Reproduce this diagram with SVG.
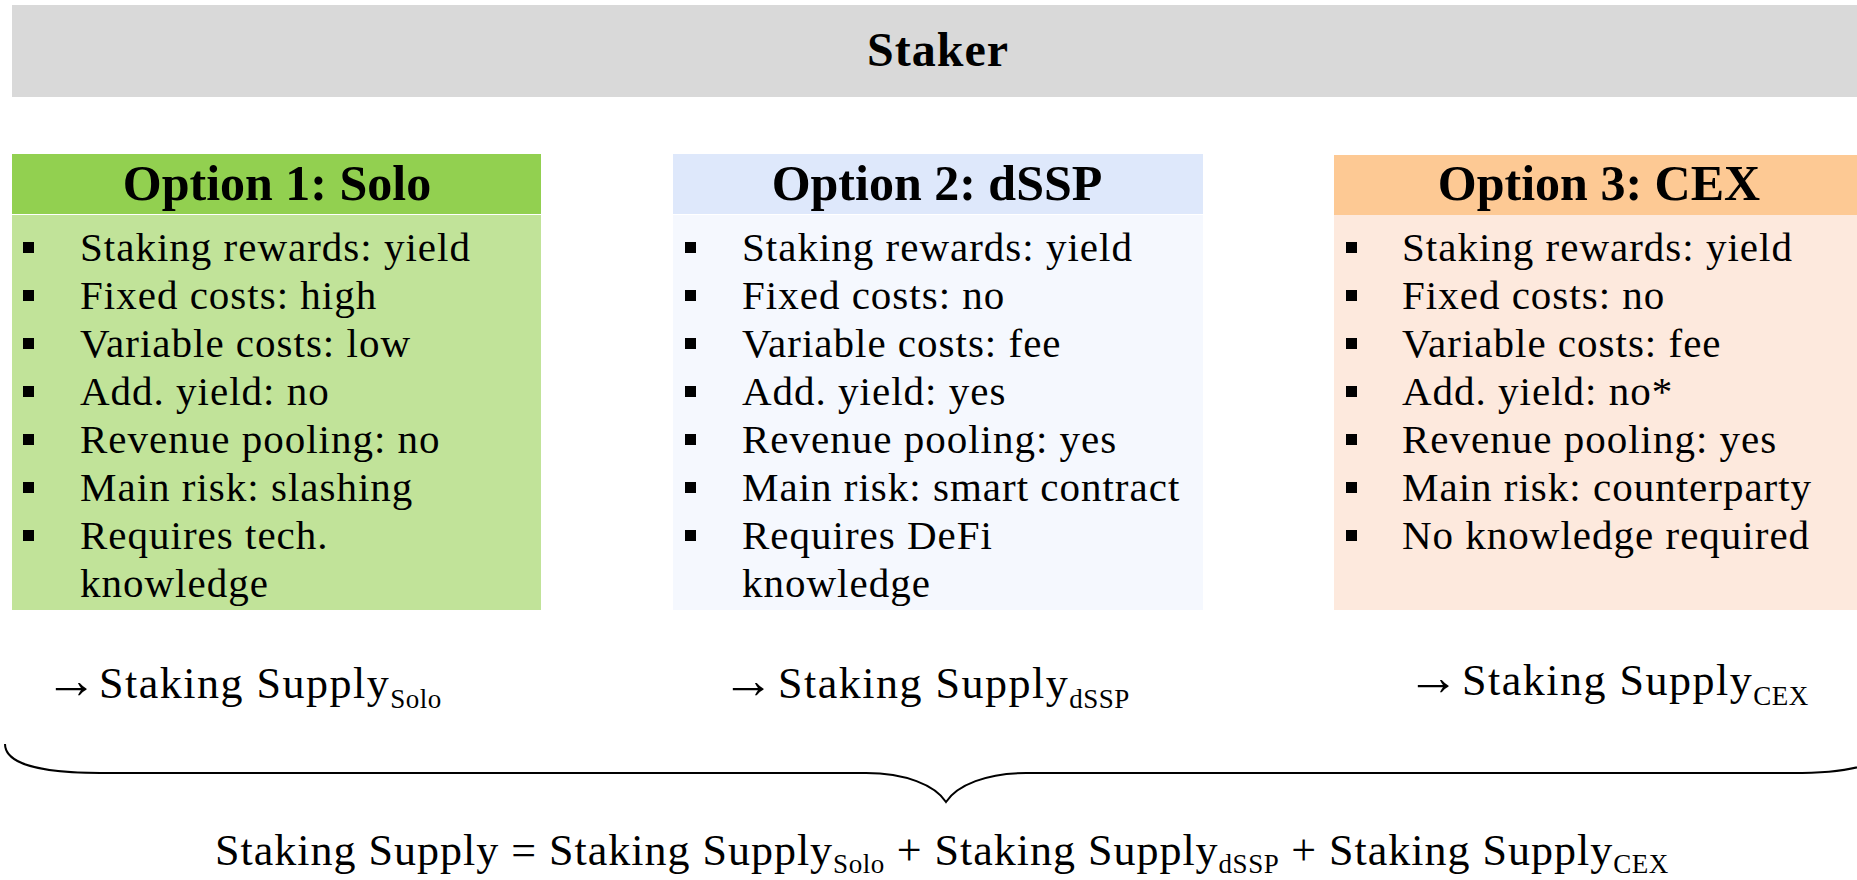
<svg xmlns="http://www.w3.org/2000/svg" width="1857" height="880" viewBox="0 0 1857 880">
<style>
.t{font-family:"Liberation Serif","Times New Roman",serif;fill:#000}
.title{font-size:48px;font-weight:bold;letter-spacing:1px}
.hd{font-size:50px;font-weight:bold}
.it{font-size:41px;letter-spacing:1px}
.lab{font-size:44px;letter-spacing:1.5px}
.tot{font-size:44px;letter-spacing:1px}
.arr{font-size:52px;letter-spacing:0}
.sub{font-size:27px;letter-spacing:0.5px}
.bul{fill:#000}
.brace{fill:none;stroke:#000;stroke-width:2}
</style>
<rect x="0" y="0" width="1857" height="880" fill="#fff"/>
<g id="staker">
<rect x="12" y="5" width="1845" height="92" fill="#D9D9D9"/>
<text class="t title" x="938" y="66" text-anchor="middle">Staker</text>
</g>
<g id="option1">
<rect x="12" y="154" width="529" height="60" fill="#92D050"/>
<rect x="12" y="215" width="529" height="395" fill="#C1E399"/>
<text class="t hd" x="277" y="200" text-anchor="middle">Option 1: Solo</text>
<g class="bul">
<rect x="23" y="242" width="11" height="11"/><rect x="23" y="290" width="11" height="11"/><rect x="23" y="338" width="11" height="11"/><rect x="23" y="386" width="11" height="11"/><rect x="23" y="434" width="11" height="11"/><rect x="23" y="482" width="11" height="11"/><rect x="23" y="530" width="11" height="11"/>
</g>
<text class="t it" x="80" y="261">Staking rewards: yield</text>
<text class="t it" x="80" y="309">Fixed costs: high</text>
<text class="t it" x="80" y="357">Variable costs: low</text>
<text class="t it" x="80" y="405">Add. yield: no</text>
<text class="t it" x="80" y="453">Revenue pooling: no</text>
<text class="t it" x="80" y="501">Main risk: slashing</text>
<text class="t it" x="80" y="549">Requires tech.</text>
<text class="t it" x="80" y="597">knowledge</text>
</g>
<g id="option2">
<rect x="673" y="154" width="530" height="60" fill="#DEE8FB"/>
<rect x="673" y="215" width="530" height="395" fill="#F5F8FE"/>
<text class="t hd" x="937" y="200" text-anchor="middle">Option 2: dSSP</text>
<g class="bul">
<rect x="685" y="242" width="11" height="11"/><rect x="685" y="290" width="11" height="11"/><rect x="685" y="338" width="11" height="11"/><rect x="685" y="386" width="11" height="11"/><rect x="685" y="434" width="11" height="11"/><rect x="685" y="482" width="11" height="11"/><rect x="685" y="530" width="11" height="11"/>
</g>
<text class="t it" x="742" y="261">Staking rewards: yield</text>
<text class="t it" x="742" y="309">Fixed costs: no</text>
<text class="t it" x="742" y="357">Variable costs: fee</text>
<text class="t it" x="742" y="405">Add. yield: yes</text>
<text class="t it" x="742" y="453">Revenue pooling: yes</text>
<text class="t it" x="742" y="501">Main risk: smart contract</text>
<text class="t it" x="742" y="549">Requires DeFi</text>
<text class="t it" x="742" y="597">knowledge</text>
</g>
<g id="option3">
<rect x="1334" y="155" width="523" height="60" fill="#FDC994"/>
<rect x="1334" y="215" width="523" height="395" fill="#FDE9DD"/>
<text class="t hd" x="1599" y="200" text-anchor="middle">Option 3: CEX</text>
<g class="bul">
<rect x="1346" y="242" width="11" height="11"/><rect x="1346" y="290" width="11" height="11"/><rect x="1346" y="338" width="11" height="11"/><rect x="1346" y="386" width="11" height="11"/><rect x="1346" y="434" width="11" height="11"/><rect x="1346" y="482" width="11" height="11"/><rect x="1346" y="530" width="11" height="11"/>
</g>
<text class="t it" x="1402" y="261">Staking rewards: yield</text>
<text class="t it" x="1402" y="309">Fixed costs: no</text>
<text class="t it" x="1402" y="357">Variable costs: fee</text>
<text class="t it" x="1402" y="405">Add. yield: no*</text>
<text class="t it" x="1402" y="453">Revenue pooling: yes</text>
<text class="t it" x="1402" y="501">Main risk: counterparty</text>
<text class="t it" x="1402" y="549">No knowledge required</text>
</g>
<g id="supply-solo">
<text class="t lab" y="698"><tspan class="arr" x="45">→</tspan><tspan x="99">Staking Supply</tspan><tspan class="sub" dy="10">Solo</tspan></text>
</g>
<g id="supply-dssp">
<text class="t lab" y="698"><tspan class="arr" x="722">→</tspan><tspan x="778">Staking Supply</tspan><tspan class="sub" dy="10">dSSP</tspan></text>
</g>
<g id="supply-cex">
<text class="t lab" y="695"><tspan class="arr" x="1407">→</tspan><tspan x="1462">Staking Supply</tspan><tspan class="sub" dy="10">CEX</tspan></text>
</g>
<g id="connectors">
<path class="brace" d="M5 744 C5 762 35 773 100 773 L866 773 C905 773 935 785 946 802 C957 785 987 773 1026 773 L1792 773 C1857 773 1887 762 1887 744"/>
</g>
<g id="total">
<text class="t tot" y="865"><tspan x="215">Staking Supply = Staking Supply</tspan><tspan class="sub" dy="8">Solo</tspan><tspan dy="-8"> + Staking Supply</tspan><tspan class="sub" dy="8">dSSP</tspan><tspan dy="-8"> + Staking Supply</tspan><tspan class="sub" dy="8">CEX</tspan></text>
</g>
</svg>
